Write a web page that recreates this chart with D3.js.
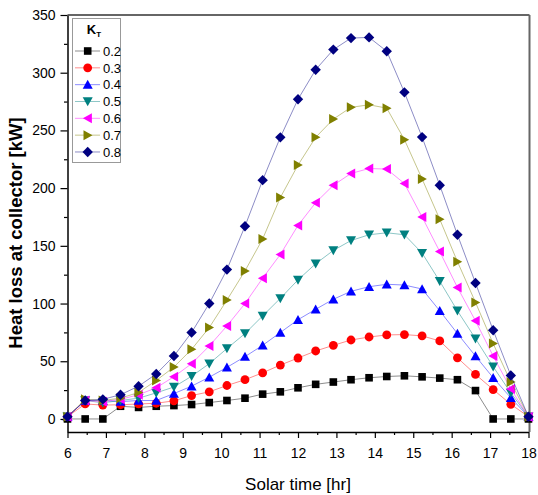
<!DOCTYPE html>
<html>
<head>
<meta charset="utf-8">
<script src="https://cdn.jsdelivr.net/npm/d3@7"></script>
<style>
  html, body { margin: 0; padding: 0; background: #fff; }
  svg { display: block; font-family: "Liberation Sans", Arial, sans-serif; }
</style>
</head>
<body>
<svg id="chart" width="538" height="495"></svg>
<script>
// ---- data ----
const solarTime = [6, 6.46, 6.92, 7.38, 7.85, 8.31, 8.77, 9.23, 9.69, 10.15, 10.62, 11.08, 11.54, 12,
  12.46, 12.92, 13.38, 13.85, 14.31, 14.77, 15.23, 15.69, 16.15, 16.62, 17.08, 17.54, 18];
const kt02 = [0, 0, 0, 11, 10, 11, 11.6, 12.5, 14.2, 16, 18, 21.5, 23.5, 27, 30, 32, 34, 35.7, 36.8, 37.4, 36.5, 35.4, 34, 24.6, 0, 0, 0];
const kt03 = [2, 13, 12, 12.3, 13, 13.6, 15.7, 20.3, 23.5, 29, 34, 40, 46.7, 52.8, 58.9, 63.8, 68.4, 71, 72.8, 73.1, 72, 67.6, 53, 38.6, 25.5, 12.7, 2];
const kt04 = [2, 16, 16, 15, 16, 16, 22, 28.4, 36.2, 44.7, 54, 63.8, 74.9, 86, 95, 103.7, 110.6, 114.6, 116.7, 116, 112.6, 93.7, 74, 54.5, 35.7, 18.3, 2];
const kt05 = [2, 16, 14, 16, 18, 22.6, 27.7, 37, 47.9, 61, 74, 89.3, 104.5, 120.5, 134.5, 146, 154.6, 159.6, 161.3, 159.6, 143.7, 119.3, 93.7, 69.6, 45.3, 22.6, 2];
const kt06 = [2, 16, 15, 17, 21, 27, 36.6, 47.9, 63.2, 80.6, 100, 122, 142.5, 167.7, 187.4, 202.5, 212.7, 217, 216.5, 204, 175, 145, 114, 85, 54.5, 26, 2];
const kt07 = [2, 17, 16, 18, 23, 33.3, 45, 60.3, 79.2, 103, 128.3, 156, 191.8, 220, 244, 259.8, 270, 272.2, 269.3, 242, 208, 173, 136.3, 101, 65.3, 32, 2];
const kt08 = [2, 16, 17, 21, 28.4, 39, 54.5, 74.9, 100, 129.4, 167, 206.9, 244, 277, 302.6, 320, 330, 330.6, 318.6, 283, 244.2, 202.5, 159.6, 117.8, 76.9, 37.7, 2];
const seriesLabels = ["0.2", "0.3", "0.4", "0.5", "0.6", "0.7", "0.8"];
const xTicks = [6, 7, 8, 9, 10, 11, 12, 13, 14, 15, 16, 17, 18];
const yTicks = [0, 50, 100, 150, 200, 250, 300, 350];

const seriesValues = [kt02, kt03, kt04, kt05, kt06, kt07, kt08];
const colors = ["#000000", "#ff0000", "#0000ff", "#008080", "#ff00ff", "#808000", "#000080"];
const shapes = ["square", "circle", "up", "down", "left", "right", "diamond"];

// ---- layout ----
const L = 67.5, R = 528.5, T = 15, B = 432;
const svg = d3.select("#chart");
const x = d3.scaleLinear().domain([6, 18]).range([L, R]);
const y = d3.scaleLinear().domain([-11.3, 350]).range([B, T]);

function shapePath(s) {
  switch (s) {
    case "square": return "M-3.8,-3.8H3.8V3.8H-3.8Z";
    case "circle": return "M4.4,0A4.4,4.4 0 1,1 -4.4,0A4.4,4.4 0 1,1 4.4,0Z";
    case "up": return "M0,-4.8L5,4.2L-5,4.2Z";
    case "down": return "M0,4.8L5,-4.2L-5,-4.2Z";
    case "left": return "M-4.8,0L4.2,-5L4.2,5Z";
    case "right": return "M4.8,0L-4.2,-5L-4.2,5Z";
    case "diamond": return "M0,-5.2L5.2,0L0,5.2L-5.2,0Z";
  }
}

// ---- axes ----
const xMinor = d3.range(6.5, 18, 1);
const yMinor = d3.range(25, 350, 50);

const gx = svg.append("g").attr("transform", `translate(0,${B})`);
gx.call(d3.axisBottom(x).tickValues(xTicks).tickSize(6).tickSizeOuter(0).tickFormat(d3.format("d")));
const gxm = svg.append("g").attr("transform", `translate(0,${B})`);
gxm.call(d3.axisBottom(x).tickValues(xMinor).tickSize(3).tickSizeOuter(0).tickFormat(""));
gxm.select(".domain").remove();

const gy = svg.append("g").attr("transform", `translate(${L},0)`);
gy.call(d3.axisLeft(y).tickValues(yTicks).tickSize(7).tickSizeOuter(0).tickFormat(d3.format("d")));
const gym = svg.append("g").attr("transform", `translate(${L},0)`);
gym.call(d3.axisLeft(y).tickValues(yMinor).tickSize(3.5).tickSizeOuter(0).tickFormat(""));
gym.select(".domain").remove();

[gx, gxm, gy, gym].forEach(g => {
  g.selectAll("line").attr("stroke", "#000").attr("stroke-width", 1.2);
  g.selectAll(".domain").attr("stroke", "#000").attr("stroke-width", 1.5);
});
gx.selectAll("text").attr("font-size", 14).attr("fill", "#000").attr("y", 16).attr("dy", "0.71em");
gy.selectAll("text").attr("font-size", 14).attr("fill", "#000").attr("x", -12);

// frame top and right
svg.append("line").attr("x1", L).attr("x2", R + 1).attr("y1", T).attr("y2", T)
  .attr("stroke", "#333").attr("stroke-width", 1.5);
svg.append("line").attr("x1", R + 1).attr("x2", R + 1).attr("y1", T).attr("y2", B)
  .attr("stroke", "#666").attr("stroke-width", 2);

// ---- series ----
const line = d3.line().x((d, i) => x(solarTime[i])).y(d => y(d));
seriesValues.forEach((vals, k) => {
  svg.append("path").datum(vals)
    .attr("d", line)
    .attr("fill", "none")
    .attr("stroke", colors[k])
    .attr("stroke-opacity", 0.45)
    .attr("stroke-width", 1);
  svg.append("g").selectAll("path").data(vals).join("path")
    .attr("d", shapePath(shapes[k]))
    .attr("transform", (d, i) => `translate(${x(solarTime[i])},${y(d)})`)
    .attr("fill", colors[k]);
});

// ---- legend ----
const lg = svg.append("g");
lg.append("rect").attr("x", 72.5).attr("y", 18.5).attr("width", 48).attr("height", 144)
  .attr("fill", "#fff").attr("stroke", "#999").attr("stroke-width", 1);
const title = lg.append("text").attr("x", 94).attr("y", 33.5).attr("text-anchor", "middle")
  .attr("font-size", 13).attr("font-weight", "bold").attr("fill", "#000");
title.append("tspan").text("K");
title.append("tspan").attr("font-size", 8).attr("dy", 3).text("T");
seriesLabels.forEach((lab, k) => {
  const cy = 51 + k * 16.83;
  lg.append("line").attr("x1", 75).attr("x2", 100).attr("y1", cy).attr("y2", cy)
    .attr("stroke", colors[k]).attr("stroke-opacity", 0.45).attr("stroke-width", 1);
  lg.append("path").attr("d", shapePath(shapes[k])).attr("transform", `translate(87.7,${cy})`)
    .attr("fill", colors[k]);
  lg.append("text").attr("x", 103).attr("y", cy).attr("dy", "0.36em")
    .attr("font-size", 13).attr("fill", "#000").text(lab);
});

// ---- axis titles ----
svg.append("text").attr("x", (L + R) / 2).attr("y", 490).attr("text-anchor", "middle")
  .attr("font-size", 17).attr("fill", "#000").text("Solar time [hr]");
svg.append("text").attr("transform", "translate(22,233) rotate(-90)").attr("text-anchor", "middle")
  .attr("font-size", 18.5).attr("font-weight", "bold").attr("fill", "#000").text("Heat loss at collector [kW]");
</script>
</body>
</html>
